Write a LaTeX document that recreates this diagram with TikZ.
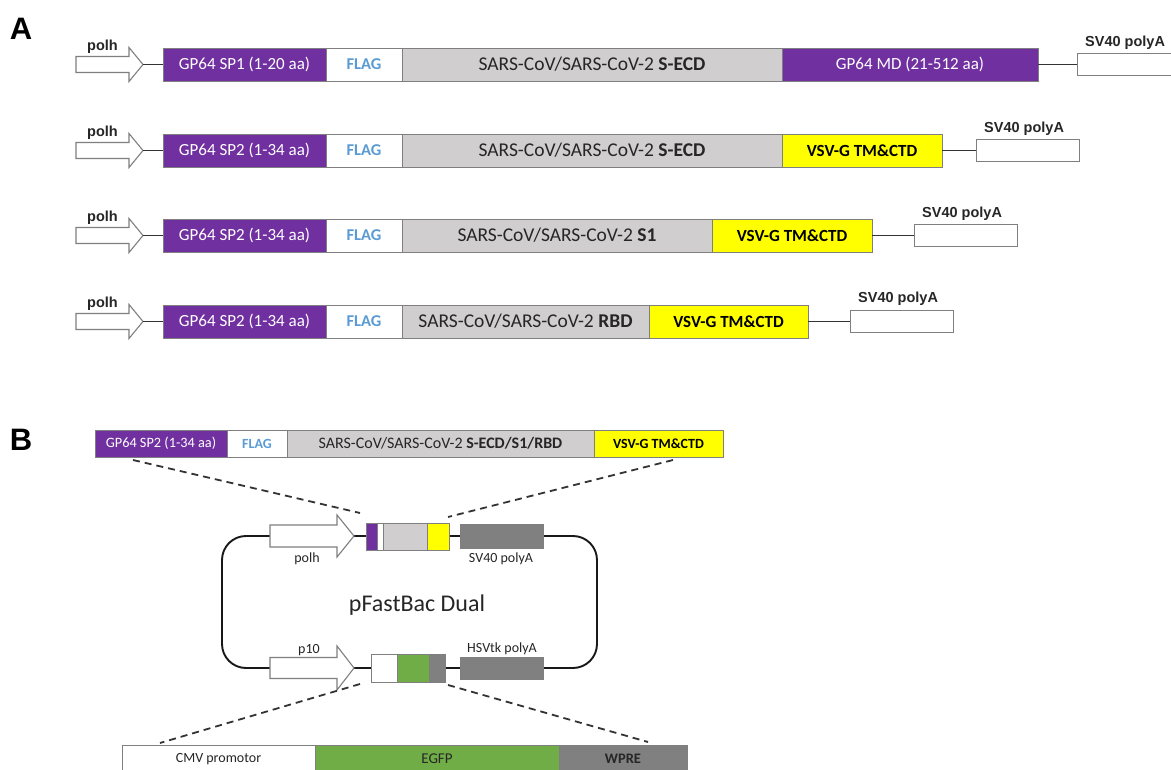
\documentclass[tikz,border=0pt]{standalone}
\usepackage{fontspec}
\setmainfont{Carlito}
\newfontfamily\lib{Liberation Sans}
\usetikzlibrary{calc}
\definecolor{gpurple}{HTML}{7030A0}
\definecolor{lgrey}{HTML}{D0CECE}
\definecolor{dgrey}{HTML}{808080}
\definecolor{bgrey}{HTML}{7F7F7F}
\definecolor{flagblue}{HTML}{5B9BD5}
\definecolor{gyellow}{HTML}{FFFF00}
\definecolor{ggreen}{HTML}{70AD47}
\definecolor{linec}{HTML}{333333}
\definecolor{txt}{HTML}{262626}
\newcommand\fs[1]{\fontsize{#1}{#1}\selectfont}
% #1 name of tip coordinate, #2 tail x, #3 centre y, #4 head start x, #5 tip x, #6 shaft half, #7 head half
\newcommand\promarrow[7]{%
  \draw[arrowbox] (#2,#3-#6) -- (#4,#3-#6) -- (#4,#3-#7) -- (#5,#3) -- (#4,#3+#7) -- (#4,#3+#6) -- (#2,#3+#6) -- cycle;
  \coordinate (#1) at (#5,#3);}
\begin{document}
\begin{tikzpicture}[x=1pt,y=-1pt,
  seg/.style={draw=bgrey, line width=0.8pt, inner sep=0pt, outer sep=0pt, anchor=west, minimum height=33pt},
  segB/.style={seg, minimum height=27pt},
  purp/.style={fill=gpurple, text=white},
  flag/.style={fill=white, text=flagblue, font=\bfseries\fs{16.5}},
  spike/.style={fill=lgrey, text=txt, font=\fs{19.5}},
  vsv/.style={fill=gyellow, text=black, font=\bfseries\fs{17}},
  polya/.style={draw=bgrey, line width=0.8pt, fill=white, inner sep=0pt, anchor=west, minimum width=103pt, minimum height=22pt},
  lbl/.style={font=\lib\bfseries\fs{14.5}, text=txt, inner sep=0pt},
  plbl/.style={font=\fs{14}, text=txt, inner sep=0pt},
  arrowbox/.style={draw=bgrey, line width=1.1pt, fill=white, line join=miter},
  conn/.style={draw=linec, line width=1.6pt},
  zoomline/.style={draw=linec, line width=1.8pt, dash pattern=on 7pt off 5pt},
  panel/.style={font=\lib\bfseries\fs{31}, inner sep=0pt}]
\clip (0,0) rectangle (1171,770);
\fill[white] (0,0) rectangle (1171,770);

% ---------------- Panel A ----------------
\node[panel] (labA) at (21,29) {A};

% Row 1
\promarrow{p1}{76}{64.5}{129}{143}{8}{17}
\node[lbl] (pl1) at (102.5,46.5) {polh};
\node[seg, purp, minimum width=163pt, font=\fs{17}] (r1a) at (163,64.5) {GP64 SP1 (1-20 aa)};
\node[seg, flag, minimum width=76pt] (r1b) at (326,64.5) {FLAG};
\node[seg, spike, minimum width=380pt] (r1c) at (402,64.5) {SARS-CoV/SARS-CoV-2 \textbf{S-ECD}};
\node[seg, purp, minimum width=256pt, font=\fs{17}] (r1d) at (782,64.5) {GP64 MD (21-512 aa)};
\node[polya] (r1e) at (1077,64.5) {};
\node[lbl, anchor=west] (r1f) at (1085,43) {SV40 polyA};
\draw[conn] (p1) -- (r1a.west);
\draw[conn] (r1d.east) -- (r1e.west);

% Row 2
\promarrow{p2}{76}{150.5}{129}{143}{8}{17}
\node[lbl] (pl2) at (102.5,132.5) {polh};
\node[seg, purp, minimum width=163pt, font=\fs{17}] (r2a) at (163,150.5) {GP64 SP2 (1-34 aa)};
\node[seg, flag, minimum width=76pt] (r2b) at (326,150.5) {FLAG};
\node[seg, spike, minimum width=380pt] (r2c) at (402,150.5) {SARS-CoV/SARS-CoV-2 \textbf{S-ECD}};
\node[seg, vsv, minimum width=160pt] (r2d) at (782,150.5) {VSV-G TM\&CTD};
\node[polya] (r2e) at (976,150.5) {};
\node[lbl, anchor=west] (r2f) at (984,129) {SV40 polyA};
\draw[conn] (p2) -- (r2a.west);
\draw[conn] (r2d.east) -- (r2e.west);

% Row 3
\promarrow{p3}{76}{235.5}{129}{143}{8}{17}
\node[lbl] (pl3) at (102.5,217.5) {polh};
\node[seg, purp, minimum width=163pt, font=\fs{17}] (r3a) at (163,235.5) {GP64 SP2 (1-34 aa)};
\node[seg, flag, minimum width=76pt] (r3b) at (326,235.5) {FLAG};
\node[seg, spike, minimum width=310pt] (r3c) at (402,235.5) {SARS-CoV/SARS-CoV-2 \textbf{S1}};
\node[seg, vsv, minimum width=160pt] (r3d) at (712,235.5) {VSV-G TM\&CTD};
\node[polya] (r3e) at (914,235.5) {};
\node[lbl, anchor=west] (r3f) at (922,214) {SV40 polyA};
\draw[conn] (p3) -- (r3a.west);
\draw[conn] (r3d.east) -- (r3e.west);

% Row 4
\promarrow{p4}{76}{321.5}{129}{143}{8}{17}
\node[lbl] (pl4) at (102.5,303.5) {polh};
\node[seg, purp, minimum width=163pt, font=\fs{17}] (r4a) at (163,321.5) {GP64 SP2 (1-34 aa)};
\node[seg, flag, minimum width=76pt] (r4b) at (326,321.5) {FLAG};
\node[seg, spike, minimum width=247pt] (r4c) at (402,321.5) {SARS-CoV/SARS-CoV-2 \textbf{RBD}};
\node[seg, vsv, minimum width=159pt] (r4d) at (649,321.5) {VSV-G TM\&CTD};
\node[polya] (r4e) at (850,321.5) {};
\node[lbl, anchor=west] (r4f) at (858,299) {SV40 polyA};
\draw[conn] (p4) -- (r4a.west);
\draw[conn] (r4d.east) -- (r4e.west);

% ---------------- Panel B ----------------
\node[panel] (labB) at (21,440) {B};

\node[segB, purp, minimum width=132pt, font=\fs{14.3}] (ba) at (95,443.5) {GP64 SP2 (1-34 aa)};
\node[segB, flag, minimum width=60pt, font=\bfseries\fs{14}] (bb) at (227,443.5) {FLAG};
\node[segB, spike, minimum width=307pt, font=\fs{16}] (bc) at (287,443.5) {SARS-CoV/SARS-CoV-2 \textbf{S-ECD/S1/RBD}};
\node[segB, vsv, minimum width=129pt, font=\bfseries\fs{14}] (bd) at (594,443.5) {VSV-G TM\&CTD};

% plasmid loop
\node[draw=black!90, line width=1.9pt, rounded corners=24pt, minimum width=375pt, minimum height=132pt, inner sep=0pt] (loop) at (409.5,602) {};
\node[font=\fs{24}, text=txt, inner sep=0pt] (pfb) at (417,605) {pFastBac Dual};

% upper cassette
\promarrow{pp}{270}{536}{337}{354}{11}{21}
\node[plbl] (ppl) at (307,559) {polh};
\node[segB, fill=gpurple, minimum width=11pt] (m1) at (366,536.5) {};
\node[segB, fill=white, minimum width=6pt] (m2) at (377,536.5) {};
\node[segB, fill=lgrey, minimum width=44pt] (m3) at (383,536.5) {};
\node[segB, fill=gyellow, minimum width=22pt] (m4) at (427,536.5) {};
\node[seg, fill=dgrey, minimum width=83pt, minimum height=24pt] (sv) at (460,536) {};
\node[plbl] (svl) at (501,559) {SV40 polyA};

% lower cassette
\promarrow{pq}{270}{668}{337}{354}{10.5}{22}
\node[plbl] (pql) at (309,650) {p10};
\node[seg, fill=white, minimum width=26pt, minimum height=28pt] (n1) at (371,668) {};
\node[seg, fill=ggreen, minimum width=32pt, minimum height=28pt] (n2) at (397,668) {};
\node[seg, fill=dgrey, minimum width=16pt, minimum height=28pt] (n3) at (429,668) {};
\node[seg, fill=dgrey, minimum width=83pt, minimum height=22pt] (hs) at (460,668) {};
\node[plbl] (hsl) at (502,649) {HSVtk polyA};

% bottom bar
\node[seg, fill=white, text=txt, font=\fs{14}, minimum width=193pt, minimum height=28pt] (c1) at (122,759) {CMV promotor};
\node[seg, fill=ggreen, text=txt, font=\fs{15}, minimum width=244pt, minimum height=28pt] (c2) at (315,759) {EGFP};
\node[seg, fill=dgrey, text=txt, font=\bfseries\fs{14.5}, minimum width=128pt, minimum height=28pt] (c3) at (559,759) {WPRE};

% zoom (dashed) lines
\coordinate (zt1) at (133,460);
\coordinate (zt2) at (360,513);
\coordinate (zt3) at (673,460);
\coordinate (zt4) at (448,517);
\coordinate (zb1) at (360,684);
\coordinate (zb2) at (160,743);
\coordinate (zb3) at (448,685);
\coordinate (zb4) at (648,742);
\draw[zoomline] (zt1) -- (zt2);
\draw[zoomline] (zt3) -- (zt4);
\draw[zoomline] (zb1) -- (zb2);
\draw[zoomline] (zb3) -- (zb4);
\end{tikzpicture}
\end{document}
